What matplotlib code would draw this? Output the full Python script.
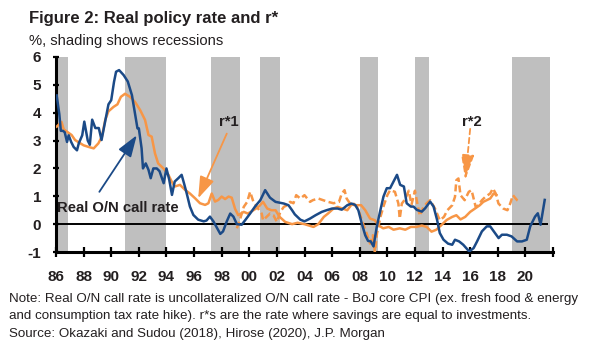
import matplotlib
matplotlib.use('Agg')
import matplotlib.pyplot as plt

BASE = ['Liberation Sans', 'DejaVu Sans']
plt.rcParams['font.family'] = BASE

# ---------------- data ----------------
call_t = [1986.05, 1986.24, 1986.35, 1986.5, 1986.63, 1986.8, 1986.92, 1987.1, 1987.28, 1987.52,
          1987.65, 1987.9, 1988.05, 1988.3, 1988.45, 1988.62, 1988.85, 1989.1, 1989.3, 1989.55,
          1989.8, 1990.0, 1990.2, 1990.35, 1990.57, 1990.9, 1991.2, 1991.5, 1991.7, 1991.9,
          1992.0, 1992.2, 1992.3, 1992.5, 1992.7, 1992.86, 1993.05, 1993.3, 1993.5, 1993.8,
          1994.0, 1994.2, 1994.4, 1994.6, 1994.86, 1995.1, 1995.27, 1995.47, 1995.7, 1995.95,
          1996.3, 1996.7, 1996.9, 1997.15, 1997.4, 1997.6, 1997.9, 1998.1, 1998.37, 1998.62,
          1998.85, 1999.1, 1999.45, 1999.7, 2000.06, 2000.4, 2000.8, 2001.15, 2001.5, 2001.9,
          2002.5, 2002.84, 2003.1, 2003.3, 2003.7, 2004.0, 2004.4, 2004.8, 2005.25, 2005.6,
          2006.0, 2006.4, 2006.7, 2007.1, 2007.4, 2007.67, 2007.9, 2008.15, 2008.4, 2008.6,
          2008.8, 2009.0, 2009.24, 2009.5, 2009.72, 2009.96, 2010.2, 2010.45, 2010.7, 2010.93,
          2011.2, 2011.4, 2011.7, 2011.9, 2012.14, 2012.5, 2012.74, 2013.1, 2013.35, 2013.6,
          2013.8, 2014.07, 2014.4, 2014.7, 2014.9, 2015.2, 2015.5, 2015.93, 2016.25, 2016.5,
          2016.85, 2017.2, 2017.45, 2017.8, 2018.06, 2018.3, 2018.66, 2019.0, 2019.4, 2019.75,
          2020.1, 2020.35, 2020.7, 2020.9, 2021.1, 2021.4]
call_v = [4.62, 3.95, 3.35, 3.35, 3.3, 2.95, 3.19, 2.95, 2.77, 2.65,
          2.9, 3.19, 3.68, 3.0, 2.85, 3.75, 3.45, 3.45, 3.02, 3.65,
          4.3, 4.45, 5.1, 5.47, 5.53, 5.35, 5.12, 4.63, 4.03, 3.44,
          3.44, 2.72, 2.0, 2.18, 1.95, 1.65, 2.0, 2.0, 1.9, 1.47,
          2.0, 1.6, 1.05, 1.53, 1.65, 1.77, 1.47, 1.1, 0.63, 0.33,
          0.16, 0.1, 0.13, 0.27, 0.1, -0.08, -0.35, -0.26, 0.1, 0.38,
          0.27, 0.0, -0.02, 0.14, 0.38, 0.62, 0.86, 1.22, 0.95, 0.8,
          0.74, 0.68, 0.5, 0.35, 0.16, 0.1, 0.2, 0.32, 0.44, 0.5,
          0.56, 0.56, 0.52, 0.68, 0.74, 0.69, 0.5, 0.02, -0.4, -0.6,
          -0.62, -0.8, -0.08, 0.51, 0.99, 1.29, 1.29, 1.53, 1.77, 1.41,
          1.35, 0.75, 0.63, 0.63, 0.51, 0.45, 0.57, 0.81, 0.63, 0.16,
          -0.32, -0.56, -0.7, -0.74, -0.56, -0.62, -0.74, -0.98, -0.86, -0.62,
          -0.26, -0.08, -0.08, -0.32, -0.5, -0.38, -0.38, -0.44, -0.62, -0.62,
          -0.56, -0.08, 0.27, 0.39, -0.02, 0.87]

rstar1_t = [1986.05, 1986.4, 1986.56, 1986.85, 1987.13, 1987.38, 1987.7, 1988.0, 1988.37, 1988.73,
            1989.07, 1989.33, 1989.57, 1989.8, 1990.17, 1990.45, 1990.7, 1991.0, 1991.36, 1991.72,
            1992.1, 1992.45, 1992.7, 1992.93, 1993.17, 1993.4, 1993.78, 1994.14, 1994.38, 1994.6,
            1994.98, 1995.35, 1995.7, 1996.07, 1996.43, 1996.8, 1997.04, 1997.28, 1997.52, 1997.76,
            1998.0, 1998.25, 1998.5, 1998.73, 1998.97, 1999.2, 1999.6, 1999.9, 2000.3, 2000.67,
            2001.0, 2001.3, 2001.6, 2001.9, 2002.2, 2002.6, 2003.1, 2003.5, 2004.0, 2004.65,
            2005.0, 2005.4, 2005.7, 2006.1, 2006.4, 2006.8, 2007.1, 2007.4, 2007.7, 2008.1,
            2008.4, 2008.75, 2009.1, 2009.35, 2009.7, 2010.1, 2010.45, 2010.9, 2011.3, 2011.7,
            2012.1, 2012.5, 2012.85, 2013.2, 2013.55, 2013.9, 2014.3, 2014.7, 2015.0, 2015.3,
            2015.64, 2016.0, 2016.35, 2016.7, 2016.95, 2017.2, 2017.45, 2017.7, 2017.9]
rstar1_v = [3.5, 3.67, 3.4, 3.3, 3.2, 3.02, 2.92, 2.83, 2.77, 2.72,
            2.9, 3.15, 3.75, 4.05, 4.21, 4.3, 4.57, 4.68, 4.57, 4.39,
            4.09, 3.74, 3.2, 3.14, 2.54, 2.18, 2.0, 1.77, 1.53, 1.35,
            1.41, 1.23, 1.1, 0.93, 0.75, 0.69, 0.75, 1.1, 0.81, 0.87,
            0.99, 0.9, 0.99, 0.95, 0.55, 0.32, 0.44, 0.38, 0.5, 0.62,
            0.8, 0.56, 0.5, 0.5, 0.26, 0.08, 0.0, 0.05, 0.0, -0.1,
            0.0, 0.26, 0.38, 0.56, 0.62, 0.55, 0.5, 0.7, 0.68, 0.68,
            0.5, 0.2, 0.14, -0.04, -0.15, -0.1, -0.2, -0.15, -0.2, -0.1,
            -0.1, -0.05, -0.1, -0.27, -0.2, -0.04, 0.15, 0.26, 0.32, 0.17,
            0.26, 0.44, 0.56, 0.68, 0.8, 0.86, 0.92, 1.1, 1.05]

rstar2_t = [1999.1, 1999.35, 1999.6, 1999.85, 2000.06, 2000.3, 2000.55, 2000.9, 2001.0, 2001.25,
            2001.5, 2001.75, 2002.0, 2002.25, 2002.5, 2002.75, 2002.96, 2003.2, 2003.4, 2003.7,
            2004.0, 2004.4, 2004.6, 2005.0, 2005.35, 2005.7, 2006.1, 2006.5, 2006.7, 2006.9,
            2007.05, 2007.3, 2007.55, 2007.8, 2008.0, 2008.25, 2008.5, 2008.75, 2008.95, 2009.1,
            2009.25, 2009.5, 2009.75, 2010.0, 2010.2, 2010.55, 2010.8, 2010.9, 2011.05, 2011.3,
            2011.55, 2011.75, 2012.0, 2012.15, 2012.35, 2012.6, 2012.85, 2013.1, 2013.45, 2013.8,
            2014.1, 2014.35, 2014.7, 2014.9, 2015.0, 2015.15, 2015.3, 2015.6, 2015.9, 2016.1,
            2016.4, 2016.6, 2016.85, 2017.1, 2017.45, 2017.65, 2017.85, 2018.05, 2018.4, 2018.7,
            2018.9, 2019.1, 2019.4, 2019.6]
rstar2_v = [-0.15, 0.2, 0.62, 0.8, 1.16, 0.8, 0.62, 0.38, 0.14, 0.26,
            0.38, 0.32, 0.08, 0.44, 0.62, 0.68, 0.8, 0.75, 1.04, 0.92,
            1.04, 0.8, 0.86, 0.92, 0.86, 0.8, 0.75, 0.8, 1.1, 1.22,
            0.92, 0.74, 0.74, 0.62, 0.38, 0.0, -0.33, -0.7, -0.4, -1.0,
            -0.33, 0.26, 0.68, 1.04, 1.22, 1.16, 0.74, 0.2, 0.74, 0.9,
            1.2, 0.7, 1.2, 0.8, 0.3, 0.6, 0.75, 0.86, 0.56, 0.14,
            0.26, 0.5, 0.68, 0.98, 1.58, 1.64, 1.04, 0.86, 1.16, 1.22,
            0.62, 0.68, 0.86, 0.98, 1.1, 1.28, 1.1, 0.74, 0.56, 0.5,
            0.74, 1.04, 0.86, 0.8]

recession_start = [1986.0, 1991.0, 1997.2, 2000.8, 2008.0, 2012.0, 2019.0]
recession_end = [1986.9, 1994.0, 1999.3, 2002.2, 2009.3, 2013.0, 2021.75]

x_ticks = list(range(1986, 2023, 2))
x_tick_labels = ['86', '88', '90', '92', '94', '96', '98', '00', '02', '04', '06', '08',
                 '10', '12', '14', '16', '18', '20', '']
y_ticks = [-1, 0, 1, 2, 3, 4, 5, 6]

title = 'Figure 2: Real policy rate and r*'
subtitle = '%, shading shows recessions'
notes = ['Note: Real O/N call rate is uncollateralized O/N call rate - BoJ core CPI (ex. fresh food & energy',
         'and consumption tax rate hike). r*s are the rate where savings are equal to investments.',
         'Source: Okazaki and Sudou (2018), Hirose (2020), J.P. Morgan']

BLUE = '#1B4A87'
ORANGE = '#F79646'
GREY = '#BFBFBF'
TXT = '#231F20'

W, H = 589, 354
fig = plt.figure(figsize=(W / 100, H / 100), dpi=100)
ax = fig.add_axes([56 / W, 1 - 252 / H, (553 - 56) / W, (252 - 57) / H])
ax.set_xlim(1986, 2022)
ax.set_ylim(-1, 6)

for s, e in zip(recession_start, recession_end):
    ax.axvspan(s, e, color=GREY, lw=0, zorder=0)

ax.plot([1986, 2021.65], [0, 0], color='black', lw=1.4, zorder=2, solid_capstyle='butt')
ax.plot(rstar1_t, rstar1_v, color=ORANGE, lw=1.8, zorder=3)
ax.plot(rstar2_t, rstar2_v, color=ORANGE, lw=1.8, ls=(0, (2.8, 1.4)), zorder=3)
ax.plot(call_t, call_v, color=BLUE, lw=1.8, zorder=4)

for side in ['top', 'right']:
    ax.spines[side].set_visible(False)
for side in ['left', 'bottom']:
    ax.spines[side].set_linewidth(2.2)
    ax.spines[side].set_color('black')

ax.set_xticks(x_ticks)
ax.set_xticklabels(x_tick_labels)
ax.set_yticks(y_ticks)
ax.set_yticklabels([str(v) for v in y_ticks])
ax.tick_params(axis='x', direction='inout', length=7.2, width=1.6, pad=9.5,
               labelsize=11, colors='black')
ax.tick_params(axis='y', direction='inout', length=4.5, width=1.6, pad=8.5,
               labelsize=11, colors='black')
for lab in ax.get_xticklabels() + ax.get_yticklabels():
    lab.set_fontweight('bold')
    lab.set_color(TXT)

# annotations
ax.text(1986.07, 0.42, 'Real O/N call rate', ha='left', va='baseline', fontsize=10.7,
        fontweight='bold', color=TXT, zorder=6)
ax.annotate('', xy=(1991.85, 3.19), xytext=(1989.14, 1.16),
            arrowprops=dict(arrowstyle='-|>,head_length=1.1,head_width=0.38', color=BLUE,
                            lw=1.3, shrinkA=0, shrinkB=0, mutation_scale=12), zorder=6)
ax.text(1998.54, 3.66, 'r*1', ha='center', va='center', fontsize=10.7,
        fontweight='bold', color=TXT, zorder=6)
ax.annotate('', xy=(1996.3, 0.93), xytext=(1998.37, 3.25),
            arrowprops=dict(arrowstyle='-|>,head_length=1.1,head_width=0.38', color=ORANGE,
                            lw=1.3, shrinkA=0, shrinkB=0, mutation_scale=12), zorder=6)
ax.text(2016.12, 3.67, 'r*2', ha='center', va='center', fontsize=10.7,
        fontweight='bold', color=TXT, zorder=6)
ax.annotate('', xy=(2015.64, 1.58), xytext=(2016.0, 3.42),
            arrowprops=dict(arrowstyle='-|>,head_length=1.4,head_width=0.36', color=ORANGE,
                            lw=1.3, ls=(0, (3, 2)), shrinkA=0, shrinkB=0, mutation_scale=11),
            zorder=6)

fig.text(29 / W, 1 - 23 / H, title, ha='left', va='baseline', fontsize=12,
         fontweight='bold', color=TXT)
fig.text(29 / W, 1 - 44.5 / H, subtitle, ha='left', va='baseline', fontsize=10.6, color=TXT)
for i, line in enumerate(notes):
    fig.text(9.4 / W, 1 - (302 + 17.5 * i) / H, line, ha='left', va='baseline',
             fontsize=9.6, color=TXT)

fig.savefig('out.png', dpi=100)
